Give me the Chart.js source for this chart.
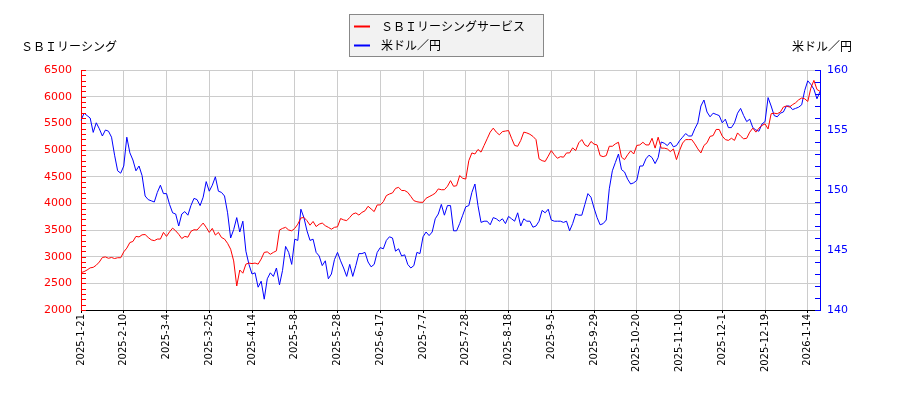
<!DOCTYPE html>
<html><head><meta charset="utf-8">
<script src="https://cdn.jsdelivr.net/npm/chart.js@4.4.1/dist/chart.umd.min.js"></script>
<style>html,body{margin:0;padding:0;background:#fff;}canvas{display:block;}</style>
</head><body>
<canvas id="c" width="900" height="400"></canvas>
<script>
const dates = [
'2025-1-21','2025-1-22','2025-1-23','2025-1-24','2025-1-27','2025-1-28','2025-1-29','2025-1-30','2025-1-31',
'2025-2-3','2025-2-4','2025-2-5','2025-2-6','2025-2-7','2025-2-10','2025-2-12','2025-2-13','2025-2-14','2025-2-17','2025-2-18','2025-2-19','2025-2-20','2025-2-21','2025-2-25','2025-2-26','2025-2-27','2025-2-28',
'2025-3-3','2025-3-4','2025-3-5','2025-3-6','2025-3-7','2025-3-10','2025-3-11','2025-3-12','2025-3-13','2025-3-14','2025-3-17','2025-3-18','2025-3-19','2025-3-21','2025-3-24','2025-3-25','2025-3-26','2025-3-27','2025-3-28','2025-3-31',
'2025-4-1','2025-4-2','2025-4-3','2025-4-4','2025-4-7','2025-4-8','2025-4-9','2025-4-10','2025-4-11','2025-4-14','2025-4-15','2025-4-16','2025-4-17','2025-4-18','2025-4-21','2025-4-22','2025-4-23','2025-4-24','2025-4-25','2025-4-28','2025-4-30',
'2025-5-1','2025-5-2','2025-5-8','2025-5-9','2025-5-12','2025-5-13','2025-5-14','2025-5-15','2025-5-16','2025-5-19','2025-5-20','2025-5-21','2025-5-22','2025-5-23','2025-5-26','2025-5-27','2025-5-28','2025-5-29','2025-5-30',
'2025-6-2','2025-6-3','2025-6-4','2025-6-5','2025-6-6','2025-6-9','2025-6-10','2025-6-11','2025-6-12','2025-6-13','2025-6-16','2025-6-17','2025-6-18','2025-6-19','2025-6-20','2025-6-23','2025-6-24','2025-6-25','2025-6-26','2025-6-27','2025-6-30',
'2025-7-1','2025-7-2','2025-7-3','2025-7-4','2025-7-7','2025-7-8','2025-7-9','2025-7-10','2025-7-11','2025-7-14','2025-7-15','2025-7-16','2025-7-17','2025-7-18','2025-7-22','2025-7-23','2025-7-24','2025-7-25','2025-7-28','2025-7-29','2025-7-30','2025-7-31',
'2025-8-1','2025-8-4','2025-8-5','2025-8-6','2025-8-7','2025-8-8','2025-8-12','2025-8-13','2025-8-14','2025-8-15','2025-8-18','2025-8-19','2025-8-20','2025-8-21','2025-8-22','2025-8-25','2025-8-26','2025-8-27','2025-8-28','2025-8-29',
'2025-9-1','2025-9-2','2025-9-3','2025-9-4','2025-9-5','2025-9-8','2025-9-9','2025-9-10','2025-9-11','2025-9-12','2025-9-16','2025-9-17','2025-9-18','2025-9-19','2025-9-22','2025-9-24','2025-9-25','2025-9-26','2025-9-29','2025-9-30',
'2025-10-1','2025-10-2','2025-10-3','2025-10-6','2025-10-7','2025-10-8','2025-10-9','2025-10-10','2025-10-14','2025-10-15','2025-10-16','2025-10-17','2025-10-20','2025-10-21','2025-10-22','2025-10-23','2025-10-24','2025-10-27','2025-10-28','2025-10-29','2025-10-30','2025-10-31',
'2025-11-4','2025-11-5','2025-11-6','2025-11-7','2025-11-10','2025-11-11','2025-11-12','2025-11-13','2025-11-14','2025-11-17','2025-11-18','2025-11-19','2025-11-20','2025-11-21','2025-11-25','2025-11-26','2025-11-27','2025-11-28',
'2025-12-1','2025-12-2','2025-12-3','2025-12-4','2025-12-5','2025-12-8','2025-12-9','2025-12-10','2025-12-11','2025-12-12','2025-12-15','2025-12-16','2025-12-17','2025-12-18','2025-12-19','2025-12-22','2025-12-23','2025-12-24','2025-12-25','2025-12-26','2025-12-29','2025-12-30',
'2026-1-5','2026-1-6','2026-1-7','2026-1-8','2026-1-9','2026-1-13','2026-1-14','2026-1-15','2026-1-16','2026-1-19','2026-1-20'
];

const sbiValues = [
2700,2720,2750,2790,2800,2840,2900,2985,2995,2970,
2985,2965,2980,2980,3090,3160,3265,3285,3380,3370,
3410,3415,3360,3315,3300,3330,3330,3455,3380,3465,
3535,3485,3420,3340,3380,3365,3475,3505,3500,3565,
3630,3550,3455,3530,3405,3455,3360,3330,3250,3140,
2920,2450,2750,2690,2860,2880,2870,2880,2860,2955,
3080,3090,3045,3080,3110,3500,3530,3550,3500,3485,
3530,3610,3725,3735,3675,3590,3660,3565,3610,3630,
3580,3550,3515,3550,3560,3715,3690,3675,3735,3800,
3820,3780,3830,3860,3945,3895,3845,3970,3970,4030,
4145,4175,4195,4280,4300,4240,4240,4205,4130,4050,
4030,4020,4020,4095,4125,4155,4190,4270,4255,4255,
4320,4425,4320,4330,4520,4470,4455,4800,4945,4925,
5010,4960,5085,5210,5335,5410,5335,5285,5345,5355,
5365,5220,5085,5070,5180,5335,5320,5295,5255,5195,
4835,4800,4785,4885,4990,4910,4845,4875,4865,4945,
4945,5040,4990,5135,5195,5095,5065,5160,5110,5095,
4895,4875,4895,5070,5070,5115,5145,4865,4820,4910,
4985,4925,5085,5095,5145,5095,5095,5220,5035,5240,
5035,5035,5020,4970,5020,4820,4990,5130,5195,5195,
5195,5115,5020,4945,5085,5135,5255,5270,5385,5385,
5260,5195,5180,5220,5180,5320,5260,5210,5220,5335,
5410,5335,5410,5460,5490,5395,5680,5690,5680,5710,
5805,5825,5805,5850,5885,5940,5975,5960,5910,6160,
6305,6135,6100
];

const usdJpyValues = [
155.8,156.4,156.2,156.0,154.8,155.6,155.1,154.5,155.0,154.9,
154.4,152.9,151.6,151.4,152.0,154.4,153.1,152.5,151.6,152.0,
151.2,149.5,149.2,149.1,149.0,149.8,150.4,149.7,149.7,148.8,
148.1,148.0,147.0,148.0,148.2,147.9,148.7,149.3,149.2,148.7,
149.4,150.7,149.9,150.4,151.1,149.9,149.8,149.5,148.1,146.0,
146.7,147.7,146.5,147.4,144.9,143.8,143.0,143.1,141.9,142.4,
140.9,142.6,143.1,142.8,143.5,142.1,143.3,145.3,144.8,143.8,
145.9,145.8,148.4,147.7,146.6,145.8,145.9,144.8,144.5,143.7,
144.1,142.6,143.0,144.2,144.8,144.1,143.5,142.8,143.8,142.8,
143.7,144.7,144.7,144.8,144.0,143.6,143.8,144.8,145.2,145.1,
145.8,146.1,146.0,144.9,145.1,144.5,144.6,143.8,143.5,143.7,
144.8,144.7,146.1,146.5,146.2,146.5,147.6,148.0,148.8,147.9,
148.7,148.7,146.6,146.6,147.2,147.9,148.6,148.7,149.8,150.5,
148.7,147.3,147.4,147.4,147.1,147.7,147.6,147.4,147.6,147.2,
147.8,147.6,147.4,148.1,147.0,147.6,147.4,147.4,146.9,147.0,
147.4,148.3,148.1,148.4,147.5,147.4,147.4,147.4,147.3,147.4,
146.6,147.2,148.0,147.9,147.9,148.8,149.7,149.4,148.5,147.7,
147.1,147.2,147.5,150.1,151.6,152.3,153.0,151.7,151.5,150.9,
150.5,150.6,150.8,152.0,152.0,152.6,152.9,152.7,152.2,152.7,
154.0,153.9,153.7,154.0,153.6,153.7,154.1,154.4,154.7,154.5,
154.5,155.1,155.6,157.0,157.5,156.5,156.1,156.4,156.3,156.2,
155.6,155.9,155.2,155.2,155.6,156.4,156.8,156.2,155.7,155.9,
155.2,155.0,154.9,155.5,155.7,157.7,157.0,156.2,156.1,156.4,
156.5,157.0,157.0,156.7,156.8,156.9,157.1,158.3,159.1,158.8,
158.4,157.6,158.2
];

const seriesNames = ['ＳＢＩリーシングサービス', '米ドル／円'];
const seriesColors = ['#ff0000', '#0000ff'];
const leftAxisTitle = 'ＳＢＩリーシング';
const rightAxisTitle = '米ドル／円';
const leftMin = 2000, leftMax = 6500, leftStep = 500, leftMinor = 100;
const rightMin = 140, rightMax = 160, rightStep = 5, rightMinor = 1;
const xLabelEvery = 14;

const CJK = '"Noto Sans CJK JP", "Noto Sans CJK SC", sans-serif';

const decor = {
  id: 'decor',
  afterDraw(chart) {
    const ctx = chart.ctx;
    const yL = chart.scales.y, yR = chart.scales.y1;
    ctx.save();
    ctx.lineWidth = 1;
    ctx.strokeStyle = seriesColors[0];
    ctx.beginPath();
    for (let v = leftMin; v <= leftMax; v += leftMinor) {
      const py = Math.round(yL.getPixelForValue(v)) + 0.5;
      ctx.moveTo(yL.right, py); ctx.lineTo(yL.right + 5, py);
    }
    ctx.stroke();
    ctx.strokeStyle = seriesColors[1];
    ctx.beginPath();
    for (let v = rightMin; v <= rightMax; v += rightMinor) {
      const py = Math.round(yR.getPixelForValue(v)) + 0.5;
      ctx.moveTo(yR.left, py); ctx.lineTo(yR.left - 5, py);
    }
    ctx.stroke();

    ctx.font = '12px ' + CJK;
    ctx.fillStyle = '#000';
    ctx.textBaseline = 'middle';
    ctx.textAlign = 'left';
    ctx.fillText(leftAxisTitle, 21, 46);
    ctx.textAlign = 'right';
    ctx.fillText(rightAxisTitle, 852, 46);

    ctx.fillStyle = '#f2f2f2';
    ctx.fillRect(349.5, 14.5, 194, 42);
    ctx.strokeStyle = '#888888';
    ctx.strokeRect(349.5, 14.5, 194, 42);
    const rows = [26.5, 45.5];
    for (let k = 0; k < 2; k++) {
      ctx.strokeStyle = seriesColors[k];
      ctx.lineWidth = 2;
      ctx.beginPath();
      ctx.moveTo(354, rows[k]); ctx.lineTo(370, rows[k]);
      ctx.stroke();
      ctx.fillStyle = '#000';
      ctx.textAlign = 'left';
      ctx.fillText(seriesNames[k], 381, rows[k]);
    }
    ctx.restore();
  }
};

new Chart(document.getElementById('c'), {
  type: 'line',
  data: {
    labels: dates,
    datasets: [
      { label: seriesNames[0], data: sbiValues, yAxisID: 'y', borderColor: seriesColors[0], borderWidth: 1, pointRadius: 0, tension: 0, fill: false },
      { label: seriesNames[1], data: usdJpyValues, yAxisID: 'y1', borderColor: seriesColors[1], borderWidth: 1, pointRadius: 0, tension: 0, fill: false }
    ]
  },
  options: {
    responsive: false,
    animation: false,
    devicePixelRatio: 1,
    layout: { padding: { top: 70, left: 0, right: 0, bottom: 0 } },
    plugins: { legend: { display: false }, tooltip: { enabled: false } },
    scales: {
      x: {
        type: 'category',
        offset: false,
        afterBuildTicks: (s) => { s.ticks = s.ticks.filter(t => t.value % xLabelEvery === 0); },
        afterFit: (s) => { s.height = 90; },
        grid: { color: '#cccccc', tickLength: 3, tickColor: '#000000', lineWidth: 1 },
        border: { color: '#000000' },
        ticks: { autoSkip: false, maxRotation: 90, minRotation: 90, padding: 1, color: '#000000', font: { family: 'DejaVu Sans', size: 10 } }
      },
      y: {
        position: 'left',
        min: leftMin, max: leftMax,
        afterFit: (s) => { s.width = 81; },
        grid: { color: '#cccccc', drawTicks: false },
        border: { color: seriesColors[0] },
        ticks: { stepSize: leftStep, padding: 9, color: seriesColors[0], font: { family: 'DejaVu Sans', size: 11 }, callback: (v) => String(v) }
      },
      y1: {
        position: 'right',
        min: rightMin, max: rightMax,
        afterFit: (s) => { s.width = 80; },
        grid: { drawOnChartArea: false, drawTicks: false, color: 'rgba(0,0,0,0)' },
        border: { color: seriesColors[1] },
        ticks: { stepSize: rightStep, padding: 7, color: seriesColors[1], font: { family: 'DejaVu Sans', size: 11 }, callback: (v) => String(v) }
      }
    }
  },
  plugins: [decor]
});
</script>
</body></html>
